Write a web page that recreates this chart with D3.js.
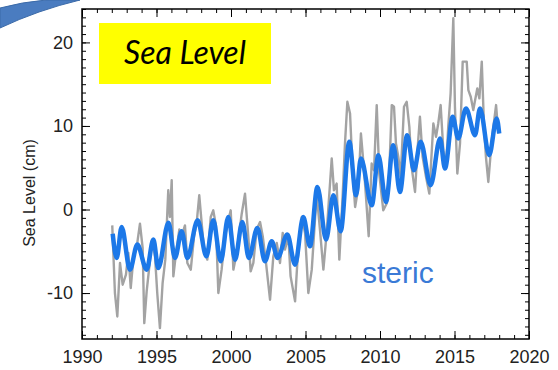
<!DOCTYPE html>
<html>
<head>
<meta charset="utf-8">
<script src="https://cdn.jsdelivr.net/npm/d3@7"></script>
<style>
  body { margin: 0; background: #fff; }
  svg { display: block; font-family: "Liberation Sans", Arial, sans-serif; }
</style>
</head>
<body>
<div id="chart"></div>
<script>
// monthly-ish series (grey)
const rawYears = [1992.03,1992.21,1992.37,1992.55,1992.73,1992.95,1993.11,1993.27,1993.44,1993.71,1993.89,1994.07,1994.18,1994.34,1994.52,1994.70,1994.90,1995.05,1995.23,1995.41,1995.59,1995.79,1995.90,1996.02,1996.13,1996.31,1996.53,1996.69,1996.91,1997.07,1997.30,1997.52,1997.70,1997.87,1998.03,1998.19,1998.41,1998.64,1998.81,1998.99,1999.15,1999.37,1999.60,1999.82,1999.98,2000.16,2000.38,2000.72,2000.94,2001.16,2001.32,2001.50,2001.72,2001.95,2002.13,2002.35,2002.62,2002.84,2003.07,2003.29,2003.47,2003.62,2003.85,2004.00,2004.30,2004.45,2004.75,2004.97,2005.19,2005.42,2005.75,2005.97,2006.20,2006.42,2006.76,2006.91,2007.09,2007.27,2007.50,2007.65,2007.81,2007.99,2008.17,2008.33,2008.55,2008.72,2008.93,2009.06,2009.24,2009.44,2009.60,2009.78,2009.95,2010.22,2010.44,2010.62,2010.79,2010.94,2011.07,2011.23,2011.39,2011.61,2011.79,2011.97,2012.12,2012.35,2012.50,2012.68,2012.86,2013.09,2013.31,2013.58,2013.76,2013.91,2014.07,2014.25,2014.43,2014.58,2014.74,2014.92,2015.03,2015.19,2015.37,2015.55,2015.82,2015.93,2016.09,2016.26,2016.53,2016.67,2016.83,2016.98,2017.11,2017.27,2017.50,2017.79,2017.94];
const rawCm = [-1.9,-10.0,-12.8,-6.4,-9.0,-7.8,-5.2,-9.4,-6.0,-4.0,-1.7,-4.6,-13.6,-9.8,-6.8,-3.6,-5.6,-10.0,-14.2,-8.8,-6.0,2.3,-0.9,3.5,-8.0,-5.2,-2.4,-3.2,-1.9,-6.4,-7.2,-3.2,-1.5,1.7,-1.6,-4.8,-6.0,-0.9,-0.1,-1.9,-10.0,-7.2,-3.2,-1.3,-0.1,-7.2,-5.2,-0.5,1.9,-3.2,-7.4,-6.4,-2.4,-1.5,-3.2,-6.4,-10.8,-5.6,-4.0,-6.4,-2.8,-4.8,-3.2,-8.0,-11.0,-6.4,-0.9,-2.8,-10.0,-7.2,1.9,-2.4,-7.2,-2.8,6.1,2.3,3.1,-6.0,1.9,7.9,12.9,11.5,4.3,0.3,2.7,9.1,4.7,1.5,-3.2,5.5,4.7,12.5,4.3,-0.1,0.7,4.3,12.5,12.3,7.9,6.3,3.9,12.3,12.9,9.9,5.1,2.1,6.7,11.1,6.3,3.9,1.9,10.3,8.7,10.3,12.5,7.1,5.1,9.9,13.9,22.9,12.3,4.3,7.9,17.7,17.7,14.3,13.5,11.9,14.5,13.3,17.7,9.9,6.3,3.3,8.3,12.5,9.1];

// steric series (blue), turning points of the seasonal cycle
const stericYears = [1992.06,1992.33,1992.66,1993.22,1993.71,1994.34,1994.79,1995.12,1995.80,1996.24,1996.69,1997.07,1997.76,1998.35,1998.81,1999.31,1999.82,2000.27,2000.76,2001.20,2001.77,2002.28,2002.73,2003.13,2003.78,2004.30,2004.85,2005.30,2005.80,2006.38,2006.87,2007.36,2007.94,2008.39,2008.72,2009.45,2009.89,2010.40,2010.89,2011.34,2011.82,2012.28,2012.73,2013.40,2014.03,2014.36,2014.88,2015.25,2015.77,2016.38,2016.71,2017.33,2017.83,2018.00];
const stericCm = [-2.9,-5.8,-2.1,-7.2,-4.2,-7.2,-3.6,-7.0,-1.6,-5.8,-2.6,-5.8,-1.3,-5.6,-1.3,-6.2,-0.9,-6.0,-1.5,-5.8,-2.2,-6.2,-3.8,-5.8,-3.0,-6.6,-0.9,-4.4,2.7,-3.6,1.7,-2.6,8.1,1.7,6.1,0.5,6.5,0.9,7.7,2.1,8.9,4.7,8.1,2.9,8.5,4.9,11.1,8.5,12.1,8.9,12.1,6.5,10.9,9.1];

const xMajor = [1990, 1995, 2000, 2005, 2010, 2015, 2020];
const yMajor = [-10, 0, 10, 20];

const width = 558, height = 370;
const margin = {top: 9, right: 29, bottom: 31, left: 82};

const svg = d3.select('#chart').append('svg')
  .attr('width', width).attr('height', height);

const x = d3.scaleLinear().domain([1990, 2020]).range([margin.left, width - margin.right]);
const y = d3.scaleLinear().domain([-15.5, 24]).range([height - margin.bottom, margin.top]);

// decorative swoosh in the corner
svg.append('path')
  .attr('d', 'M0,8 Q22,2 46,0 L80,0 Q38,10 0,28 Z')
  .attr('fill', '#4a7cc0')
  .attr('stroke', '#3b6aa8').attr('stroke-width', 1);

const years = d3.range(1990, 2021);
const cms = d3.range(-15, 25);
const plain = d => String(d);

const tickAxis = (axis, scale, vals, size) => axis(scale).tickValues(vals).tickSize(size).tickFormat('');

const styleAx = g => {
  g.select('.domain').remove();
  g.selectAll('line').attr('stroke', '#000').attr('stroke-width', 1);
  g.selectAll('text').attr('font-size', 18).attr('fill', '#222').attr('font-family', '"Liberation Sans", Arial, sans-serif');
};

const yb = y.range()[0], yt = y.range()[1];
// bottom
svg.append('g').attr('transform', `translate(0,${yb})`).call(tickAxis(d3.axisBottom, x, years, -4)).call(styleAx);
svg.append('g').attr('transform', `translate(0,${yb})`)
  .call(d3.axisBottom(x).tickValues(xMajor).tickSize(-8).tickPadding(11).tickFormat(plain)).call(styleAx);
// top
svg.append('g').attr('transform', `translate(0,${yt})`).call(tickAxis(d3.axisTop, x, years, -4)).call(styleAx);
svg.append('g').attr('transform', `translate(0,${yt})`).call(tickAxis(d3.axisTop, x, xMajor, -8)).call(styleAx);
// left
svg.append('g').attr('transform', `translate(${x.range()[0]},0)`).call(tickAxis(d3.axisLeft, y, cms, -4)).call(styleAx);
svg.append('g').attr('transform', `translate(${x.range()[0]},0)`)
  .call(d3.axisLeft(y).tickValues(yMajor).tickSize(-8).tickPadding(9).tickFormat(plain)).call(styleAx);
// right
svg.append('g').attr('transform', `translate(${x.range()[1]},0)`).call(tickAxis(d3.axisRight, y, cms, -4)).call(styleAx);
svg.append('g').attr('transform', `translate(${x.range()[1]},0)`).call(tickAxis(d3.axisRight, y, yMajor, -8)).call(styleAx);

// the frame
svg.append('rect')
  .attr('x', x.range()[0]).attr('y', yt)
  .attr('width', x.range()[1] - x.range()[0]).attr('height', yb - yt)
  .attr('fill', 'none').attr('stroke', '#000').attr('stroke-width', 1.5);

const line = d3.line().x(d => x(d[0])).y(d => y(d[1]));

svg.append('path')
  .datum(d3.zip(rawYears, rawCm))
  .attr('d', line)
  .attr('fill', 'none').attr('stroke', '#a3a3a3').attr('stroke-width', 2.4).attr('stroke-linejoin', 'round');

svg.append('path')
  .datum(d3.zip(stericYears, stericCm))
  .attr('d', line.curve(d3.curveMonotoneX))
  .attr('fill', 'none').attr('stroke', '#1c78e8').attr('stroke-width', 4.5).attr('stroke-linejoin', 'round');

// title box
svg.append('rect')
  .attr('x', 99).attr('y', 23).attr('width', 172).attr('height', 61)
  .attr('fill', '#ffff00');
svg.append('text')
  .attr('x', 185).attr('y', 64)
  .attr('text-anchor', 'middle')
  .attr('font-family', 'Lato, "Open Sans", sans-serif')
  .attr('font-style', 'italic')
  .attr('font-size', 32)
  .attr('fill', '#000')
  .text('Sea Level');

// y axis title
svg.append('text')
  .attr('transform', 'translate(35,193) rotate(-90)')
  .attr('text-anchor', 'middle')
  .attr('font-size', 16).attr('fill', '#222')
  .text('Sea Level (cm)');

// series label
svg.append('text')
  .attr('x', 362).attr('y', 283)
  .attr('font-size', 30).attr('fill', '#3a7ad6')
  .text('steric');
</script>
</body>
</html>
